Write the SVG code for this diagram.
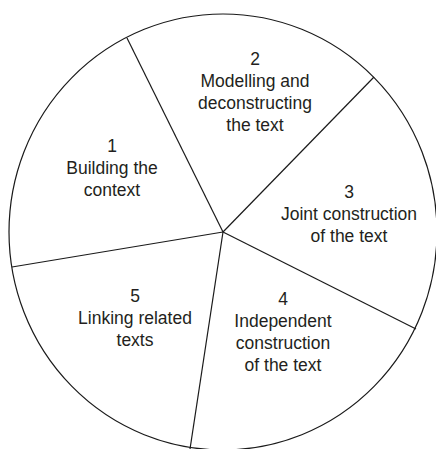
<svg xmlns="http://www.w3.org/2000/svg" width="436" height="449" viewBox="0 0 436 449">
<style>
.ol{fill:none;stroke:#1a1a1a;stroke-width:1.2}
.t{font-family:"Liberation Sans",Arial,sans-serif;font-size:17.5px;fill:#231f20;text-anchor:middle}
</style>
<rect width="436" height="449" fill="#fff"/>
<g id="circle"><ellipse class="ol" cx="223" cy="232" rx="214" ry="218"/></g>
<g id="connectors">
<line class="ol" x1="223" y1="232" x2="127" y2="38"/>
<line class="ol" x1="223" y1="232" x2="374" y2="77"/>
<line class="ol" x1="223" y1="232" x2="416" y2="329"/>
<line class="ol" x1="223" y1="232" x2="190" y2="449"/>
<line class="ol" x1="223" y1="232" x2="12" y2="267"/>
</g>
<g id="stage1"><text class="t" x="112" y="152">1</text><text class="t" x="112" y="174">Building the</text><text class="t" x="112" y="196">context</text></g>
<g id="stage2"><text class="t" x="255" y="65">2</text><text class="t" x="255" y="87">Modelling and</text><text class="t" x="255" y="109">deconstructing</text><text class="t" x="255" y="131">the text</text></g>
<g id="stage3"><text class="t" x="349" y="198">3</text><text class="t" x="349" y="220">Joint construction</text><text class="t" x="349" y="242">of the text</text></g>
<g id="stage4"><text class="t" x="283" y="305">4</text><text class="t" x="283" y="327">Independent</text><text class="t" x="283" y="349">construction</text><text class="t" x="283" y="371">of the text</text></g>
<g id="stage5"><text class="t" x="135" y="302">5</text><text class="t" x="135" y="324">Linking related</text><text class="t" x="135" y="346">texts</text></g>
</svg>
